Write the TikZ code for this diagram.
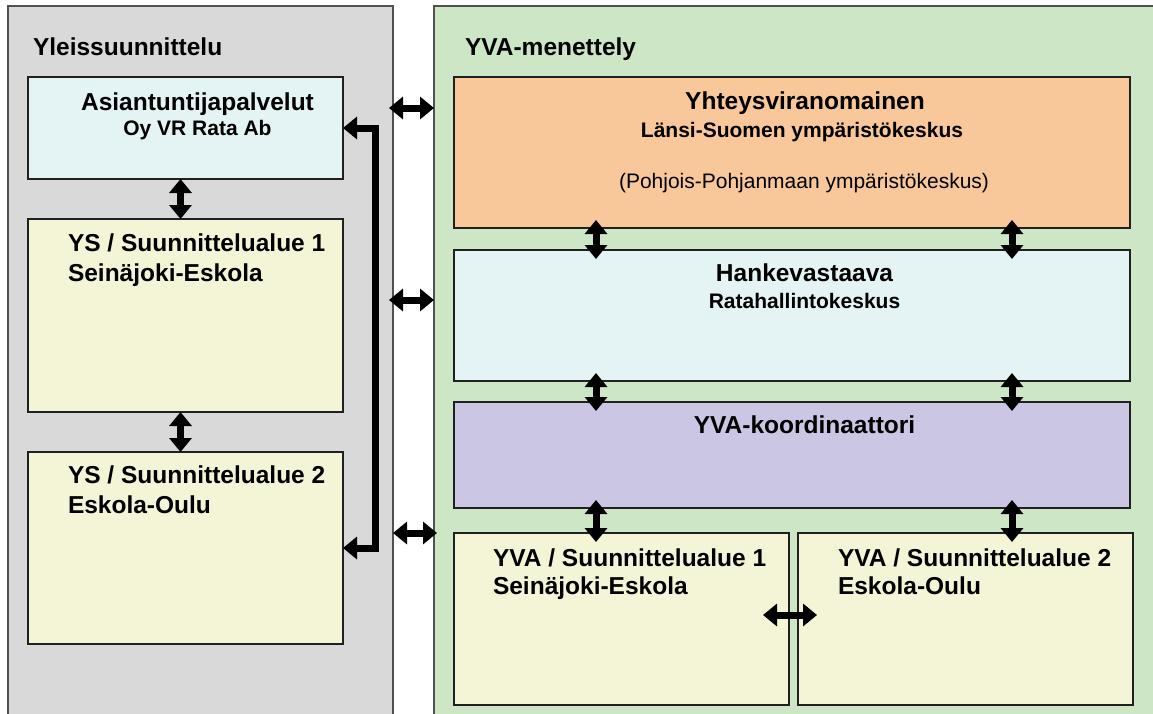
\documentclass[tikz,border=0pt]{standalone}
\usepackage{fontspec}
\setmainfont{Liberation Sans}
\usetikzlibrary{arrows.meta,calc}
\definecolor{panelgray}{HTML}{D9D9D9}
\definecolor{panelgreen}{HTML}{CDE6C6}
\definecolor{panelline}{HTML}{505050}
\definecolor{boxline}{HTML}{202020}
\definecolor{boxcyan}{HTML}{E4F3F3}
\definecolor{boxyellow}{HTML}{F3F5D6}
\definecolor{boxorange}{HTML}{F8C89A}
\definecolor{boxpurple}{HTML}{CAC6E4}
\begin{document}
\begin{tikzpicture}[x=1pt,y=-1pt,
  panel/.style={draw=panelline, line width=1.5pt, inner sep=0pt, outer sep=0pt, anchor=north west},
  box/.style={draw=boxline, line width=1.2pt, inner sep=0pt, outer sep=0pt, anchor=north west},
  big/.style={font=\fontsize{24.5}{29}\selectfont\bfseries, inner sep=0pt, outer sep=0pt},
  sub/.style={font=\fontsize{21}{25}\selectfont\bfseries, inner sep=0pt, outer sep=0pt},
  subr/.style={font=\fontsize{21}{25}\selectfont, inner sep=0pt, outer sep=0pt},
  dbl/.style={line width=7pt, {Triangle[width=22pt,length=14pt]}-{Triangle[width=22pt,length=14pt]}}
]
\path[use as bounding box] (0,0) rectangle (1153,713);
\clip (0,0) rectangle (1153,713);
\fill[white] (0,0) rectangle (1153,713);

% panels
\node[panel, fill=panelgray, minimum width=385pt, minimum height=730pt] (lp) at (8,6) {};
\node[panel, fill=panelgreen, minimum width=740pt, minimum height=730pt] (gp) at (434,6) {};

% left boxes
\node[box, fill=boxcyan, minimum width=315pt, minimum height=102pt] (asi) at (28,77) {};
\node[box, fill=boxyellow, minimum width=315pt, minimum height=193pt] (ys1) at (28,219) {};
\node[box, fill=boxyellow, minimum width=315pt, minimum height=192pt] (ys2) at (28,452) {};

% right boxes
\node[box, fill=boxorange, minimum width=676pt, minimum height=151pt] (yht) at (454,77) {};
\node[box, fill=boxcyan, minimum width=676pt, minimum height=131pt] (hank) at (454,250) {};
\node[box, fill=boxpurple, minimum width=676pt, minimum height=106pt] (koord) at (454,402) {};
\node[box, fill=boxyellow, minimum width=335pt, minimum height=172pt] (yva1) at (454,533) {};
\node[box, fill=boxyellow, minimum width=335pt, minimum height=172pt] (yva2) at (798,533) {};

% left arrows
\draw[dbl] ([xshift=-5pt]asi.south) -- ([xshift=-5pt]ys1.north);
\draw[dbl] ([xshift=-5pt]ys1.south) -- ([xshift=-5pt]ys2.north);
\draw[dbl] (asi.east) -- ++(32,0) |- (ys2.east);

% between panels
\draw[dbl, shorten <=-4pt] (lp.east |- 0,108) -- (gp.west |- 0,108);
\draw[dbl, shorten <=-4pt] (lp.east |- 0,300) -- (gp.west |- 0,300);
\draw[dbl, shorten >=-3pt] (lp.east |- 0,533) -- (gp.west |- 0,533);

% right arrows
\draw[dbl, shorten <=-8pt, shorten >=-9pt] ([xshift=142pt]yht.south west) -- ([xshift=142pt]hank.north west);
\draw[dbl, shorten <=-8pt, shorten >=-9pt] ([xshift=-118pt]yht.south east) -- ([xshift=-118pt]hank.north east);
\draw[dbl, shorten <=-8pt, shorten >=-9pt] ([xshift=142pt]hank.south west) -- ([xshift=142pt]koord.north west);
\draw[dbl, shorten <=-8pt, shorten >=-9pt] ([xshift=-118pt]hank.south east) -- ([xshift=-118pt]koord.north east);
\draw[dbl, shorten <=-8pt, shorten >=-9pt] ([xshift=142pt]koord.south west) -- ([xshift=142pt]yva1.north west);
\draw[dbl, shorten <=-8pt, shorten >=-9pt] ([xshift=-118pt]koord.south east) -- ([xshift=214pt]yva2.north west);
\draw[dbl, shorten <=-26pt, shorten >=-19pt] (yva1.east |- 0,615) -- (yva2.west |- 0,615);

% texts
\node[big, anchor=base west] (tys) at (33,55) {Yleissuunnittelu};
\node[big, anchor=base west] (tyva) at (465,55) {YVA-menettely};

\node[big, anchor=base] (asi1) at (197.5,110) {Asiantuntijapalvelut};
\node[sub, anchor=base] (asi2) at (197.5,135) {Oy VR Rata Ab};

\node[big, anchor=base west] (ys1a) at (68,251) {YS / Suunnittelualue 1};
\node[big, anchor=base west] (ys1b) at (68,281) {Seinäjoki-Eskola};
\node[big, anchor=base west] (ys2a) at (68,483) {YS / Suunnittelualue 2};
\node[big, anchor=base west] (ys2b) at (68,513) {Eskola-Oulu};

\node[big, anchor=base] (yht1) at (805,109) {Yhteysviranomainen};
\node[sub, anchor=base] (yht2) at (802,137) {Länsi-Suomen ympäristökeskus};
\node[subr, anchor=base] (yht3) at (804,188) {(Pohjois-Pohjanmaan ympäristökeskus)};

\node[big, anchor=base] (hank1) at (804.5,281) {Hankevastaava};
\node[sub, anchor=base] (hank2) at (804.5,308) {Ratahallintokeskus};

\node[big, anchor=base] (koord1) at (804.5,433) {YVA-koordinaattori};

\node[big, anchor=base west] (yva1a) at (493,566) {YVA / Suunnittelualue 1};
\node[big, anchor=base west] (yva1b) at (493,594) {Seinäjoki-Eskola};
\node[big, anchor=base west] (yva2a) at (838,566) {YVA / Suunnittelualue 2};
\node[big, anchor=base west] (yva2b) at (838,594) {Eskola-Oulu};
\end{tikzpicture}
\end{document}
